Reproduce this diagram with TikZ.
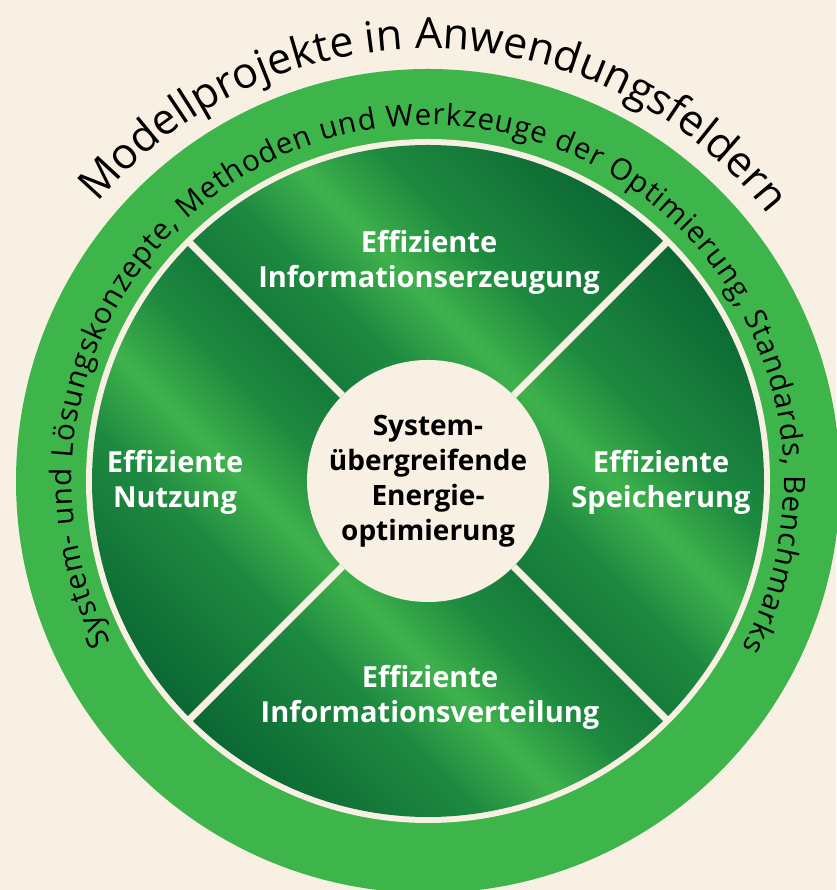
\documentclass[tikz,border=0pt]{standalone}
\usepackage{fontspec}
\setmainfont{Open Sans}
\usetikzlibrary{decorations.text,calc}
\definecolor{bg}{HTML}{F8F1E3}
\definecolor{ringgreen}{HTML}{3DB54A}
\definecolor{dk}{HTML}{0A6633}
\definecolor{md}{HTML}{1E8A40}
\definecolor{lt}{HTML}{3FB24C}
\pgfdeclarehorizontalshading{streak}{100bp}{color(0bp)=(dk); color(25bp)=(dk); color(42bp)=(md); color(50bp)=(lt); color(58bp)=(md); color(75bp)=(dk); color(100bp)=(dk)}
\tikzset{
  seglabel/.style={text=white, font=\fontsize{29}{35}\selectfont\bfseries, align=center},
  corelabel/.style={circle, fill=bg, minimum size=242pt, inner sep=0pt, text=black, font=\fontsize{28}{35}\selectfont\bfseries, align=center},
  divider/.style={draw=bg, line width=7pt},
  segment/.style={shading=streak, shading angle=45},
}
\begin{document}
\begin{tikzpicture}[x=1pt,y=1pt]
\fill[bg] (0,0) rectangle (836,890);
\useasboundingbox (0,0) rectangle (836,890);
\coordinate (C) at (428,409);
\fill[ringgreen] (C) circle (412);
\fill[bg] (C) circle (342);
\foreach \a in {45,135,225,315}{
  \shade[segment] (C) -- ++(\a:336) arc[start angle=\a, end angle=\a+90, radius=336] -- cycle;
}
\foreach \a/\n in {45/ne,135/nw,225/sw,315/se}{
  \coordinate (\n) at ($(C)+(\a:338)$);
}
\node[corelabel] (core) at (C) {System-\\übergreifende\\Energie-\\optimierung};
\draw[divider] (core.45) -- (ne);
\draw[divider] (core.135) -- (nw);
\draw[divider] (core.225) -- (sw);
\draw[divider] (core.315) -- (se);
\node[seglabel] (top) at (429,628) {Effiziente\\Informationserzeugung};
\node[seglabel] (left) at (175,408) {Effiziente\\Nutzung};
\node[seglabel] (right) at (661,408) {Effiziente\\Speicherung};
\node[seglabel] (bottom) at (430,193) {Effiziente\\Informationsverteilung};
\path[decorate, decoration={text along path, text align=fit to path,
  text={|\fontsize{29.5}{30}\selectfont|System- und Lösungskonzepte, Methoden und Werkzeuge der Optimierung, Standards, Benchmarks}}]
  ($(C)+(207:356)$) arc[start angle=207, end angle=-28, radius=356];
\path[decorate, decoration={text along path, text align=center,
  text={|\fontsize{43}{43}\selectfont|Modellprojekte in Anwendungsfeldern}}]
  ($(C)+(150:432)$) arc[start angle=150, end angle=28, radius=432];
\end{tikzpicture}
\end{document}
